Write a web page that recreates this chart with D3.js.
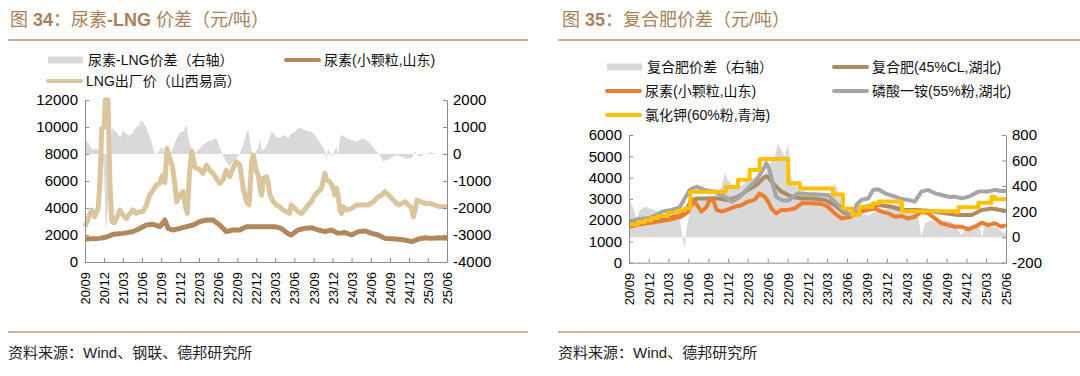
<!DOCTYPE html>
<html>
<head>
<meta charset="utf-8">
<script src="https://cdn.jsdelivr.net/npm/d3@7"></script>
<style>
  body { margin: 0; background: #fff; }
  svg { display: block; font-family: "Liberation Sans", Arial, "Noto Sans CJK SC", sans-serif; }
</style>
</head>
<body>
<div id="chart"></div>
<script>
// quarter tick labels shared by both panels
const quarterTicks = ["20/09", "20/12", "21/03", "21/06", "21/09", "21/12", "22/03", "22/06", "22/09", "22/12",
  "23/03", "23/06", "23/09", "23/12", "24/03", "24/06", "24/09", "24/12", "25/03", "25/06"];

// ---- 图34 data ----
const leftTicksL = [0, 2000, 4000, 6000, 8000, 10000, 12000];
const leftTicksR = [-4000, -3000, -2000, -1000, 0, 1000, 2000];

const ureaLngSpread = [
  ["2020-09-01", 455], ["2020-09-15", 455], ["2020-09-25", 270], ["2020-10-10", 150], ["2020-10-26", 210],
  ["2020-11-11", 90], ["2020-11-20", -300], ["2020-12-01", -500], ["2020-12-10", -2900], ["2020-12-20", -2000],
  ["2020-12-29", -200], ["2021-01-07", 950], ["2021-01-31", 800], ["2021-02-16", 620], ["2021-03-02", 870],
  ["2021-03-18", 740], ["2021-04-04", 680], ["2021-04-19", 800], ["2021-05-05", 1010], ["2021-05-21", 1070],
  ["2021-05-29", 1260], ["2021-06-14", 1070], ["2021-06-30", 800], ["2021-07-16", 455], ["2021-08-01", 0],
  ["2021-08-17", 50], ["2021-09-03", 270], ["2021-09-19", 0], ["2021-10-04", -50], ["2021-10-22", 100],
  ["2021-11-14", 580], ["2021-11-30", 800], ["2021-12-15", 830], ["2022-01-01", 1070], ["2022-01-09", 580],
  ["2022-01-25", 120], ["2022-02-10", 60], ["2022-03-04", 200], ["2022-03-20", 330], ["2022-04-13", 455],
  ["2022-05-07", 520], ["2022-05-23", 580], ["2022-06-08", 270], ["2022-06-24", -80], ["2022-07-10", -280],
  ["2022-07-26", -470], ["2022-08-11", -280], ["2022-08-27", -160], ["2022-09-13", 40], ["2022-09-29", 330],
  ["2022-10-15", 800], ["2022-10-23", 890], ["2022-11-08", 120], ["2022-11-16", -160], ["2022-12-02", 150],
  ["2022-12-10", 210], ["2022-12-18", 580], ["2022-12-26", 120], ["2023-01-11", 210], ["2023-01-27", 450],
  ["2023-02-12", 830], ["2023-02-28", 700], ["2023-03-14", 580], ["2023-03-30", 640], ["2023-04-16", 700],
  ["2023-05-01", 580], ["2023-05-17", 760], ["2023-06-03", 830], ["2023-06-18", 950], ["2023-07-05", 950],
  ["2023-07-20", 890], ["2023-08-06", 830], ["2023-08-22", 830], ["2023-09-07", 700], ["2023-09-23", 510],
  ["2023-10-09", 330], ["2023-10-25", 150], ["2023-11-02", -280], ["2023-11-08", 210], ["2023-11-26", -100],
  ["2023-12-12", 150], ["2023-12-20", 270], ["2023-12-27", -100], ["2024-01-05", 580], ["2024-01-13", 700],
  ["2024-02-07", 580], ["2024-03-01", 510], ["2024-03-25", 450], ["2024-04-18", 580], ["2024-05-12", 510],
  ["2024-06-05", 330], ["2024-06-21", 150], ["2024-07-15", -40], ["2024-07-30", -280], ["2024-08-16", -220],
  ["2024-09-10", -120], ["2024-10-03", -50], ["2024-10-27", -100], ["2024-11-20", -180], ["2024-12-14", -160],
  ["2024-12-30", 90], ["2025-01-15", -100], ["2025-02-17", -10], ["2025-03-11", 60], ["2025-04-04", 30],
  ["2025-04-28", 0], ["2025-06-01", 20]
];

const ureaShandongL = [
  ["2020-09-01", 1700], ["2020-11-11", 1750], ["2020-12-13", 1850], ["2021-01-14", 2050], ["2021-03-02", 2120],
  ["2021-04-19", 2250], ["2021-05-21", 2490], ["2021-06-22", 2740], ["2021-07-24", 2790], ["2021-08-25", 2620],
  ["2021-09-19", 3110], ["2021-10-04", 2490], ["2021-10-28", 2370], ["2021-11-30", 2490], ["2022-01-01", 2620],
  ["2022-02-02", 2740], ["2022-03-04", 2990], ["2022-04-06", 3110], ["2022-05-07", 3110], ["2022-06-08", 2740],
  ["2022-07-10", 2250], ["2022-08-11", 2370], ["2022-09-13", 2370], ["2022-10-15", 2620], ["2022-11-16", 2620],
  ["2022-12-18", 2620], ["2023-02-28", 2620], ["2023-03-30", 2490], ["2023-05-01", 2120], ["2023-05-17", 2000],
  ["2023-06-18", 2370], ["2023-07-20", 2490], ["2023-08-22", 2540], ["2023-09-23", 2370], ["2023-10-25", 2250],
  ["2023-11-26", 2370], ["2023-12-27", 2120], ["2024-01-29", 2180], ["2024-03-01", 2000], ["2024-04-02", 2250],
  ["2024-05-04", 2300], ["2024-06-05", 2120], ["2024-07-07", 2000], ["2024-08-08", 1750], ["2024-09-25", 1700],
  ["2024-11-04", 1650], ["2024-12-14", 1510], ["2025-01-15", 1700], ["2025-02-17", 1800], ["2025-03-19", 1750],
  ["2025-04-20", 1800], ["2025-06-01", 1750]
];

const lngShanxi = [
  ["2020-09-01", 2600], ["2020-10-02", 3850], ["2020-10-17", 3350], ["2020-11-03", 3970], ["2020-11-12", 6000],
  ["2020-11-20", 9900], ["2020-12-01", 10000], ["2020-12-08", 12000], ["2020-12-20", 12000], ["2020-12-29", 6000],
  ["2021-01-07", 3000], ["2021-01-20", 2900], ["2021-02-16", 3850], ["2021-03-02", 3480], ["2021-03-18", 3230],
  ["2021-04-04", 3600], ["2021-04-19", 3850], ["2021-05-05", 3600], ["2021-05-21", 3730], ["2021-06-06", 3730],
  ["2021-06-22", 4220], ["2021-07-08", 4960], ["2021-07-24", 5330], ["2021-08-10", 5700], ["2021-08-25", 5830],
  ["2021-09-08", 6440], ["2021-09-19", 5900], ["2021-09-29", 8420], ["2021-10-12", 7680], ["2021-10-25", 7060],
  ["2021-11-06", 5700], ["2021-11-14", 4470], ["2021-11-30", 4960], ["2021-12-15", 5210], ["2021-12-28", 3980],
  ["2022-01-04", 3600], ["2022-01-14", 6440], ["2022-01-25", 8200], ["2022-02-10", 7000], ["2022-03-04", 6850],
  ["2022-03-20", 6570], ["2022-04-06", 7180], ["2022-04-21", 6810], ["2022-05-07", 6570], ["2022-05-23", 6200],
  ["2022-06-08", 5830], ["2022-06-24", 6070], ["2022-07-10", 6810], ["2022-07-26", 6320], ["2022-08-11", 6940],
  ["2022-08-27", 7430], ["2022-09-13", 7180], ["2022-09-29", 5460], ["2022-10-15", 4470], ["2022-10-27", 4220],
  ["2022-11-08", 7430], ["2022-11-16", 7930], ["2022-12-02", 6690], ["2022-12-10", 6440], ["2022-12-18", 5460],
  ["2022-12-26", 4960], ["2023-01-03", 6200], ["2023-01-19", 6320], ["2023-01-27", 5830], ["2023-02-04", 4960],
  ["2023-02-20", 4470], ["2023-03-07", 4220], ["2023-03-22", 4100], ["2023-04-08", 3850], ["2023-04-23", 3730],
  ["2023-05-09", 3600], ["2023-05-17", 4220], ["2023-06-03", 3980], ["2023-06-18", 3730], ["2023-07-05", 3600],
  ["2023-07-20", 3850], ["2023-08-06", 4220], ["2023-08-22", 4470], ["2023-09-07", 4960], ["2023-09-23", 5210],
  ["2023-10-09", 5460], ["2023-10-25", 6570], ["2023-11-02", 6070], ["2023-11-18", 5950], ["2023-12-04", 5460],
  ["2023-12-12", 4960], ["2023-12-20", 5460], ["2023-12-27", 4960], ["2024-01-05", 3850], ["2024-01-13", 3600],
  ["2024-01-21", 4100], ["2024-02-07", 3850], ["2024-03-01", 3980], ["2024-03-25", 4220], ["2024-04-18", 4220],
  ["2024-05-19", 4220], ["2024-06-13", 4470], ["2024-07-07", 4840], ["2024-07-23", 4960], ["2024-08-08", 5210],
  ["2024-08-24", 4960], ["2024-09-10", 4710], ["2024-09-25", 4470], ["2024-10-11", 4220], ["2024-10-27", 4340],
  ["2024-11-12", 4470], ["2024-11-28", 4220], ["2024-12-14", 3980], ["2024-12-22", 3360], ["2024-12-30", 3850],
  ["2025-01-08", 4590], ["2025-01-24", 4470], ["2025-02-17", 4340], ["2025-03-11", 4340], ["2025-04-04", 4220],
  ["2025-04-28", 4100], ["2025-06-01", 4100]
];

// ---- 图35 data ----
const rightTicksL = [0, 1000, 2000, 3000, 4000, 5000, 6000];
const rightTicksR = [-200, 0, 200, 400, 600, 800];

const npkSpread = [
  ["2020-09-01", 316], ["2020-09-21", 224], ["2020-10-06", 146], ["2020-10-21", 211], ["2020-11-14", 238],
  ["2020-12-06", 224], ["2020-12-29", 211], ["2021-01-30", 172], ["2021-02-27", 172], ["2021-03-30", 164],
  ["2021-04-22", 133], ["2021-05-08", -23], ["2021-05-15", -89], ["2021-05-23", 55], ["2021-06-08", 211],
  ["2021-06-30", 290], ["2021-07-31", 303], ["2021-09-01", 316], ["2021-10-01", 329], ["2021-11-01", 394],
  ["2021-11-16", 499], ["2021-12-01", 446], ["2022-01-02", 381], ["2022-02-02", 407], ["2022-03-02", 446],
  ["2022-04-02", 472], ["2022-05-03", 446], ["2022-06-03", 551], ["2022-07-03", 629], ["2022-07-18", 733],
  ["2022-08-03", 681], ["2022-08-19", 629], ["2022-09-03", 733], ["2022-09-19", 446], ["2022-10-04", 420],
  ["2022-10-27", 355], ["2022-12-04", 342], ["2023-01-20", 329], ["2023-03-05", 316], ["2023-04-05", 420],
  ["2023-04-20", 368], ["2023-05-13", 264], ["2023-06-06", 172], ["2023-07-06", 146], ["2023-08-06", 185],
  ["2023-09-06", 172], ["2023-10-07", 198], ["2023-11-07", 211], ["2023-12-22", 237], ["2024-01-23", 264],
  ["2024-02-22", 224], ["2024-03-23", 211], ["2024-04-23", 159], ["2024-05-08", 3], ["2024-05-24", 107],
  ["2024-06-24", 133], ["2024-07-24", 107], ["2024-08-24", 133], ["2024-09-24", 120], ["2024-10-25", 55],
  ["2024-11-10", 16], ["2024-11-25", 81], ["2024-12-25", 94], ["2025-01-26", 107], ["2025-02-10", 3],
  ["2025-02-24", 94], ["2025-03-26", 81], ["2025-04-26", 68], ["2025-05-26", 29], ["2025-06-01", 60]
];

const npkHubei = [
  ["2020-09-01", 1770], ["2020-11-14", 1930], ["2021-01-14", 2040], ["2021-03-14", 2130], ["2021-04-30", 2240],
  ["2021-05-23", 2480], ["2021-06-15", 2950], ["2021-07-16", 3020], ["2021-09-01", 3020], ["2021-10-16", 3020],
  ["2021-12-01", 2950], ["2022-01-17", 3100], ["2022-03-02", 3420], ["2022-04-10", 3650], ["2022-05-18", 4040],
  ["2022-06-03", 4040], ["2022-06-25", 3730], ["2022-08-03", 3340], ["2022-09-19", 3100], ["2022-11-04", 3020],
  ["2022-12-19", 3020], ["2023-02-19", 2950], ["2023-04-05", 2710], ["2023-05-21", 2320], ["2023-07-06", 2240],
  ["2023-08-21", 2630], ["2023-10-22", 2710], ["2023-12-22", 2630], ["2024-02-07", 2480], ["2024-04-08", 2480],
  ["2024-06-08", 2440], ["2024-08-09", 2350], ["2024-10-25", 2240], ["2024-12-25", 2240], ["2025-02-10", 2480],
  ["2025-03-26", 2550], ["2025-06-01", 2430]
];

const ureaShandongR = [
  ["2020-09-01", 1690], ["2020-10-29", 1820], ["2021-01-14", 1930], ["2021-03-14", 2040], ["2021-04-30", 2160],
  ["2021-05-31", 2400], ["2021-06-15", 2710], ["2021-06-30", 2870], ["2021-07-16", 2630], ["2021-07-31", 2400],
  ["2021-08-24", 2630], ["2021-09-08", 2950], ["2021-09-23", 2950], ["2021-10-09", 2480], ["2021-11-01", 2400],
  ["2021-12-01", 2510], ["2022-01-02", 2630], ["2022-02-02", 2710], ["2022-03-02", 2870], ["2022-04-02", 2950],
  ["2022-04-25", 3260], ["2022-05-18", 3100], ["2022-06-03", 2870], ["2022-06-18", 2550], ["2022-07-10", 2320],
  ["2022-08-03", 2480], ["2022-09-03", 2480], ["2022-10-04", 2550], ["2022-11-04", 2790], ["2022-12-19", 2790],
  ["2023-02-04", 2760], ["2023-03-05", 2630], ["2023-04-05", 2320], ["2023-05-06", 2080], ["2023-06-06", 2130],
  ["2023-07-06", 2240], ["2023-08-06", 2400], ["2023-09-06", 2480], ["2023-10-07", 2550], ["2023-11-07", 2400],
  ["2023-12-07", 2320], ["2024-01-07", 2160], ["2024-02-07", 2190], ["2024-03-08", 2080], ["2024-04-08", 2160],
  ["2024-05-08", 2400], ["2024-06-08", 2320], ["2024-07-09", 2080], ["2024-08-09", 1850], ["2024-09-09", 1770],
  ["2024-10-09", 1690], ["2024-11-10", 1690], ["2024-12-10", 1570], ["2025-01-10", 1690], ["2025-02-10", 1880],
  ["2025-03-11", 1770], ["2025-04-11", 1850], ["2025-05-11", 1690], ["2025-06-01", 1770]
];

const mapHubei = [
  ["2020-09-01", 1930], ["2020-10-13", 2040], ["2020-12-14", 2130], ["2021-01-30", 2400], ["2021-03-14", 2480],
  ["2021-04-22", 2600], ["2021-05-15", 3020], ["2021-06-08", 3420], ["2021-07-08", 3570], ["2021-08-16", 3420],
  ["2021-10-01", 3340], ["2021-11-16", 3100], ["2021-12-16", 2870], ["2022-01-02", 2950], ["2022-01-24", 3100],
  ["2022-03-02", 3490], ["2022-04-10", 3890], ["2022-05-10", 4360], ["2022-05-26", 4670], ["2022-06-10", 4360],
  ["2022-06-25", 3650], ["2022-07-10", 3100], ["2022-08-03", 2950], ["2022-09-03", 2910], ["2022-09-26", 3100],
  ["2022-10-19", 3260], ["2022-12-04", 3230], ["2023-01-20", 3210], ["2023-03-05", 3180], ["2023-04-05", 2870],
  ["2023-05-06", 2550], ["2023-06-06", 2320], ["2023-06-29", 2240], ["2023-07-14", 2710], ["2023-08-06", 2950],
  ["2023-09-06", 3020], ["2023-09-29", 3420], ["2023-10-22", 3450], ["2023-11-22", 3260], ["2024-01-07", 3100],
  ["2024-02-07", 2990], ["2024-03-08", 2950], ["2024-04-08", 2870], ["2024-05-08", 3340], ["2024-06-08", 3420],
  ["2024-07-09", 3260], ["2024-08-09", 3180], ["2024-09-09", 3100], ["2024-10-09", 3100], ["2024-11-10", 3020],
  ["2024-12-10", 3100], ["2025-01-26", 3340], ["2025-03-11", 3340], ["2025-04-11", 3420], ["2025-05-11", 3370],
  ["2025-06-01", 3370]
];

// potash price moves in steps
const kclQinghai = [
  ["2020-09-01", 1800], ["2020-10-13", 1900], ["2020-11-14", 2000], ["2020-12-14", 2100], ["2021-01-14", 2200],
  ["2021-02-27", 2350], ["2021-04-14", 2450], ["2021-05-15", 2550], ["2021-06-10", 3330], ["2021-11-20", 3560],
  ["2022-01-15", 3900], ["2022-03-10", 4350], ["2022-04-25", 4870], ["2022-09-03", 3730], ["2022-10-27", 3490],
  ["2023-03-28", 3200], ["2023-05-13", 2550], ["2023-06-25", 2250], ["2023-07-28", 2620], ["2023-09-25", 2780],
  ["2023-10-25", 2870], ["2024-02-08", 2420], ["2024-10-10", 2380], ["2024-10-25", 2600], ["2025-01-25", 2820],
  ["2025-03-26", 3100], ["2025-04-11", 2980], ["2025-06-01", 2980]
];

const parseDay = d3.timeParse("%Y-%m-%d");
const parseTick = d3.timeParse("%y/%m");

const svg = d3.select("#chart")
  .append("svg")
    .attr("width", 1080)
    .attr("height", 376);

const titleColor = "#a9815b";
const ruleColor = "#b8977a";
const axisColor = "#8c8c8c";

const drawPanel = (p) => {
  const g = svg.append("g");

  // title + rules
  const title = g.append("text")
    .attr("x", p.titleX)
    .attr("y", 26)
    .attr("fill", titleColor)
    .attr("font-size", 18);
  p.title.forEach(([s, bold]) => title.append("tspan").attr("font-weight", bold ? 700 : 400).text(s));

  g.append("line")
    .attr("x1", p.ruleX1).attr("x2", p.ruleX2).attr("y1", 40).attr("y2", 40)
    .attr("stroke", ruleColor).attr("stroke-width", 1.5);
  g.append("line")
    .attr("x1", p.ruleX1).attr("x2", p.ruleX2).attr("y1", 332).attr("y2", 332)
    .attr("stroke", ruleColor).attr("stroke-width", 1.5);

  g.append("text")
    .attr("x", p.ruleX1)
    .attr("y", 358)
    .attr("font-size", 15)
    .attr("fill", "#222")
    .text(p.source);

  const x = d3.scaleTime()
    .domain([parseDay("2020-09-01"), parseDay("2025-06-01")])
    .range([p.left, p.right]);
  const yL = d3.scaleLinear().domain(d3.extent(p.ticksL)).range([p.bottom, p.top]);
  const yR = d3.scaleLinear().domain(d3.extent(p.ticksR)).range([p.bottom, p.top]);

  // spread area on the right axis
  const area = d3.area()
    .x((d) => x(parseDay(d[0])))
    .y0(yR(0))
    .y1((d) => yR(d[1]));
  g.append("path")
    .datum(p.area)
    .attr("d", area)
    .attr("fill", "#d9d9d9");

  // price lines on the left axis
  p.lines.forEach((s) => {
    const line = d3.line()
      .x((d) => x(parseDay(d[0])))
      .y((d) => yL(d[1]))
      .curve(s.step ? d3.curveStepAfter : d3.curveLinear);
    g.append("path")
      .datum(s.data)
      .attr("d", line)
      .attr("fill", "none")
      .attr("stroke", s.color)
      .attr("stroke-width", p.lineWidth)
      .attr("stroke-linejoin", "round");
  });

  // axes, ticks pointing inward; plain hyphen for negatives
  const plain = (d) => String(d);
  const left = g.append("g")
    .attr("transform", `translate(${p.left},0)`)
    .call(d3.axisLeft(yL).tickValues(p.ticksL).tickFormat(plain)
      .tickSize(-4).tickSizeOuter(0).tickPadding(7));
  const right = g.append("g")
    .attr("transform", `translate(${p.right},0)`)
    .call(d3.axisRight(yR).tickValues(p.ticksR).tickFormat(plain)
      .tickSize(-4).tickSizeOuter(0).tickPadding(6));
  const bottom = g.append("g")
    .attr("transform", `translate(0,${p.bottom})`)
    .call(d3.axisBottom(x).tickValues(quarterTicks.map(parseTick))
      .tickFormat(d3.timeFormat("%y/%m")).tickSize(-4).tickSizeOuter(0));

  bottom.selectAll("text")
    .attr("transform", "rotate(-90)")
    .attr("x", -10)
    .attr("y", 0)
    .attr("dy", "0.35em")
    .attr("text-anchor", "end")
    .attr("font-size", 13);

  [left, right, bottom].forEach((a) => {
    a.attr("font-family", null);
    a.selectAll("path, line").attr("stroke", axisColor);
    a.selectAll("text").attr("fill", "#000");
  });
  left.selectAll("text").attr("font-size", 15);
  right.selectAll("text").attr("font-size", 15);

  // legend
  p.legend.forEach((l) => {
    if (l.kind === "area") {
      g.append("rect")
        .attr("x", l.x).attr("y", l.y - 3.5)
        .attr("width", 35).attr("height", 7)
        .attr("fill", "#d9d9d9");
    } else {
      g.append("line")
        .attr("x1", l.x + 2).attr("x2", l.x + 35)
        .attr("y1", l.y).attr("y2", l.y)
        .attr("stroke", l.color).attr("stroke-width", 4)
        .attr("stroke-linecap", "round");
    }
    g.append("text")
      .attr("x", l.x + 40)
      .attr("y", l.y + 5)
      .attr("font-size", 14)
      .attr("fill", "#111")
      .text(l.label);
  });
};

drawPanel({
  title: [["图 ", false], ["34", true], ["：尿素", false], ["-LNG", true], [" 价差（元/吨）", false]],
  titleX: 10,
  ruleX1: 8, ruleX2: 528,
  source: "资料来源：Wind、钢联、德邦研究所",
  left: 85, right: 447, top: 100, bottom: 262,
  ticksL: leftTicksL, ticksR: leftTicksR,
  area: ureaLngSpread,
  lineWidth: 5,
  lines: [
    { data: ureaShandongL, color: "#b3875c" },
    { data: lngShanxi, color: "#dac59c" }
  ],
  legend: [
    { kind: "area", x: 48, y: 60, label: "尿素-LNG价差（右轴）" },
    { kind: "line", x: 284, y: 60, color: "#b3875c", label: "尿素(小颗粒,山东)" },
    { kind: "line", x: 46, y: 81, color: "#dac59c", label: "LNG出厂价（山西易高）" }
  ]
});

drawPanel({
  title: [["图 ", false], ["35", true], ["：复合肥价差（元/吨）", false]],
  titleX: 562,
  ruleX1: 558, ruleX2: 1080,
  source: "资料来源：Wind、德邦研究所",
  left: 629, right: 1006, top: 135, bottom: 262.7,
  ticksL: rightTicksL, ticksR: rightTicksR,
  area: npkSpread,
  lineWidth: 4,
  lines: [
    { data: npkHubei, color: "#ae8a62" },
    { data: ureaShandongR, color: "#ed7d31" },
    { data: mapHubei, color: "#a5a5a5" },
    { data: kclQinghai, color: "#ffc000", step: true }
  ],
  legend: [
    { kind: "area", x: 607, y: 67, label: "复合肥价差（右轴）" },
    { kind: "line", x: 832, y: 67, color: "#ae8a62", label: "复合肥(45%CL,湖北)" },
    { kind: "line", x: 605, y: 91, color: "#ed7d31", label: "尿素(小颗粒,山东)" },
    { kind: "line", x: 832, y: 91, color: "#a5a5a5", label: "磷酸一铵(55%粉,湖北)" },
    { kind: "line", x: 605, y: 115, color: "#ffc000", label: "氯化钾(60%粉,青海)" }
  ]
});
</script>
</body>
</html>
